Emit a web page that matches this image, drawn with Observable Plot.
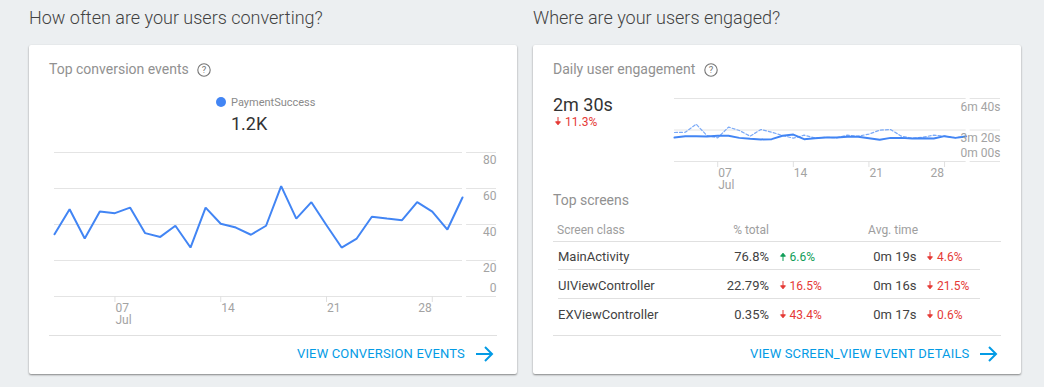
<!DOCTYPE html>
<html><head><meta charset="utf-8">
<script src="https://cdn.jsdelivr.net/npm/d3@7"></script>
<script src="https://cdn.jsdelivr.net/npm/@observablehq/plot@0.6"></script>
<style>
html,body{margin:0;padding:0;background:#eceff1;font-family:Roboto,sans-serif;overflow:hidden}
#page{position:relative;width:1044px;height:387px}
.abs{position:absolute;white-space:nowrap}
.h{font-size:18px;font-weight:300;color:#424242;top:8px;line-height:20px}
.card{position:absolute;top:45px;width:488px;height:329px;background:#fff;border-radius:2px;box-shadow:0 1px 2px rgba(0,0,0,.45)}
.sub{font-size:14px;color:#919191;line-height:16px;font-weight:400}
.help{position:absolute}
.link{font-size:13px;color:#039be5;line-height:16px;letter-spacing:.15px}
.hr{position:absolute;height:1px;background:#e0e0e0}
.plot{position:absolute}
.cell{position:absolute;font-size:13px;line-height:16px;color:#424242;white-space:nowrap}
.hd{color:#9e9e9e;font-size:12px;font-weight:400}
.r{text-align:right}
.up{color:#0f9d58}.down{color:#e53935}
svg.ar{vertical-align:-1px;margin-right:3px}
</style></head><body><div id="page"></div>
<script>
const dayNumbers = [3,4,5,6,7,8,9,10,11,12,13,14,15,16,17,18,19,20,21,22,23,24,25,26,27,28,29,30];
const paymentSuccess = [34.6,48.5,32.2,47.2,46.3,49.4,35.2,33.1,39.3,27.2,49.4,40.4,38.3,34.3,39.3,61.3,43.3,52.4,39.6,27.2,32.2,44.3,43.3,42.4,52.4,47.2,37.2,55];
const engagementNow = [152,161,161,159,163,163,150,144,140,142,163,171,142,148,152,152,157,157,148,138,150,150,146,148,146,161,150,159];
const engagementPrev = [184,186,237,165,150,218,197,161,203,186,165,148,167,150,154,150,167,161,174,199,203,161,148,154,167,161,152,161];
const tickDays = [7,14,21,28];
const conversionTicks = [0,20,40,60,80];
const engagementTicks = [0,200,400];
const engagementLabels = {0:"0m 00s",200:"3m 20s",400:"6m 40s"};
const screens = ["MainActivity","UIViewController","EXViewController"];
const pctTotal = ["76.8%","22.79%","0.35%"];
const pctChange = [["up","6.6%"],["down","16.5%"],["down","43.4%"]];
const avgTime = ["0m 19s","0m 16s","0m 17s"];
const timeChange = [["down","4.6%"],["down","21.5%"],["down","0.6%"]];

const page = document.getElementById("page");
function add(cls, txt, style){const d=document.createElement("div");d.className=cls;if(txt!=null)d.innerHTML=txt;d.style.cssText=style;page.appendChild(d);return d;}
const help = `<svg width="14" height="14" viewBox="0 0 14 14"><circle cx="7" cy="7" r="6.2" fill="none" stroke="#757575" stroke-width="1.1"/><text x="7" y="10.2" text-anchor="middle" font-size="9.5" font-family="Roboto" fill="#757575">?</text></svg>`;
const arrowLink = `<svg width="20" height="16" viewBox="0 0 20 16"><path d="M1 8H17M10 1L17 8L10 15" fill="none" stroke="#039be5" stroke-width="2"/></svg>`;
function tri(dir){const c=dir==="up"?"#0f9d58":"#e53935";const p=dir==="up"?"M4 10V3M1.6 5.2L4 2.2L6.4 5.2Z":"M4 1V8M1.6 5.8L4 8.8L6.4 5.8Z";return `<svg class="ar" width="8" height="11" viewBox="0 0 8 11"><path d="${p}" fill="${c}" stroke="${c}" stroke-width="1"/></svg>`;}

add("abs h","How often are your users converting?","left:29px");
add("abs h","Where are your users engaged?","left:533px");
add("card",null,"left:29px");
add("card",null,"left:533px");
add("abs sub","Top conversion events","left:49px;top:61px");
add("help",help,"left:197px;top:62px;height:14px");
add("abs sub","Daily user engagement","left:553px;top:61px");
add("help",help,"left:704px;top:62px;height:14px");

/* left card */
add("abs","","left:216px;top:97px;width:10px;height:10px;border-radius:50%;background:#4285f4");
add("abs","PaymentSuccess","left:231px;top:96px;font-size:11px;line-height:14px;color:#8a8a8a");
add("abs","1.2K","left:231px;top:112px;font-size:18px;line-height:24px;color:#333;font-weight:400");
add("hr",null,"left:49px;top:335px;width:448px");
add("abs link","VIEW CONVERSION EVENTS","left:297px;top:346px");
add("abs",arrowLink,"left:475px;top:346px;height:16px");

const D = d => new Date(Date.UTC(2019,6,0) + d*864e5);
const rows = dayNumbers.map((d,i)=>({date:D(d),v:paymentSuccess[i]}));
const axisColor = "#a3a3a3";
function chart({wrapLeft,wrapTop,w,h,ml,mr,mt,mb,x2Day,gapDay,yDomain,ticks,labels,labelBelow,marks}){
  const start=D(dayNumbers[0]),end=D(dayNumbers[dayNumbers.length-1]);
  const last=tickDays[tickDays.length-1];
  const svg=Plot.plot({width:w,height:h,marginLeft:ml,marginRight:mr,marginTop:mt,marginBottom:mb,
    style:{background:"transparent",fontFamily:"Roboto",overflow:"visible"},
    x:{type:"utc",domain:[start,D(x2Day)],axis:null},
    y:{domain:yDomain,axis:null},
    marks:[
      Plot.ruleY(ticks,{y:d=>d,x1:()=>start,x2:()=>end,stroke:"#e4e4e4",strokeWidth:1}),
      Plot.ruleY(ticks,{y:d=>d,x1:()=>D(gapDay),x2:()=>D(x2Day),stroke:"#e4e4e4",strokeWidth:1}),
      Plot.ruleX(tickDays,{x:D,y1:yDomain[0],y2:yDomain[0],insetBottom:-6,stroke:"#e0e0e0",strokeWidth:1}),
      Plot.text(tickDays.filter(d=>d!==last),{x:D,y:yDomain[0],text:d=>String(d).padStart(2,"0"),dx:0.5,dy:12,textAnchor:"start",fill:axisColor,fontSize:12}),
      Plot.text([last],{x:D,y:yDomain[0],text:d=>String(d),dx:-0.5,dy:12,textAnchor:"end",fill:axisColor,fontSize:12}),
      Plot.text(["Jul"],{x:()=>D(7),y:()=>yDomain[0],dx:0.5,dy:24,textAnchor:"start",fill:axisColor,fontSize:12}),
      ...marks,
      Plot.text(ticks,{x:()=>D(x2Day),y:d=>d,text:labels,textAnchor:"end",fill:axisColor,fontSize:12,
        render(index,scales,values,dims,ctx,next){const g=next(index,scales,values,dims,ctx);
          d3.select(g).selectAll("text").attr("dy",(_,j)=>labelBelow(ticks[index[j]])+"px");return g;}})
    ]});
  const wrap=add("plot",null,`left:${wrapLeft}px;top:${wrapTop}px;width:${w}px;height:${h}px`);
  wrap.appendChild(svg);
}
chart({wrapLeft:0,wrapTop:140,w:520,h:200,ml:54,mr:24,mt:12,mb:44,x2Day:32.25,gapDay:30.27,yDomain:[0,80],ticks:conversionTicks,
  labels:d=>String(d),labelBelow:d=>d===0?-8:7.5,
  marks:[Plot.line(rows,{x:"date",y:"v",stroke:"#4285f4",strokeWidth:2,strokeLinejoin:"miter"})]});

/* right card */
add("abs","2m 30s","left:553px;top:93px;font-size:18px;line-height:24px;color:#333");
add("abs down",tri("down")+"11.3%","left:554px;top:115px;font-size:12px;line-height:15px");
const nowRows=dayNumbers.map((d,i)=>({date:D(d),v:engagementNow[i]}));
const prevRows=dayNumbers.map((d,i)=>({date:D(d),v:engagementPrev[i]}));
chart({wrapLeft:500,wrapTop:86,w:520,h:110,ml:174,mr:20,mt:12,mb:35,x2Day:33.18,gapDay:30.37,yDomain:[0,400],ticks:engagementTicks,
  labels:d=>engagementLabels[d],labelBelow:d=>d===0?-8:8.5,
  marks:[Plot.line(prevRows,{x:"date",y:"v",stroke:"#7baaf7",strokeWidth:1.2,strokeDasharray:"3,2"}),
         Plot.line(nowRows,{x:"date",y:"v",stroke:"#4285f4",strokeWidth:2})]});
add("abs sub","Top screens","left:553px;top:192px");
add("cell hd","Screen class","left:557px;top:222px");
add("cell hd r","% total","left:669px;top:222px;width:100px");
add("cell hd r","Avg. time","left:818px;top:222px;width:100px");
add("hr",null,"left:553px;top:241px;width:448px");
screens.forEach((s,i)=>{
  const t=249+29*i;
  add("cell",s,`left:558px;top:${t}px`);
  add("cell r",pctTotal[i],`left:669px;top:${t}px;width:100px`);
  add("cell "+pctChange[i][0],tri(pctChange[i][0])+pctChange[i][1],`left:778.5px;top:${t}px;font-size:12px`);
  add("cell r",avgTime[i],`left:816.5px;top:${t}px;width:100px`);
  add("cell "+timeChange[i][0],tri(timeChange[i][0])+timeChange[i][1],`left:926px;top:${t}px;font-size:12px`);
  if(i<2) add("hr",null,`left:558px;top:${t+20}px;width:422px`);
});
add("hr",null,"left:553px;top:335px;width:448px");
add("abs link","VIEW SCREEN_VIEW EVENT DETAILS","left:750px;top:346px");
add("abs",arrowLink,"left:979px;top:346px;height:16px");
</script></body></html>
